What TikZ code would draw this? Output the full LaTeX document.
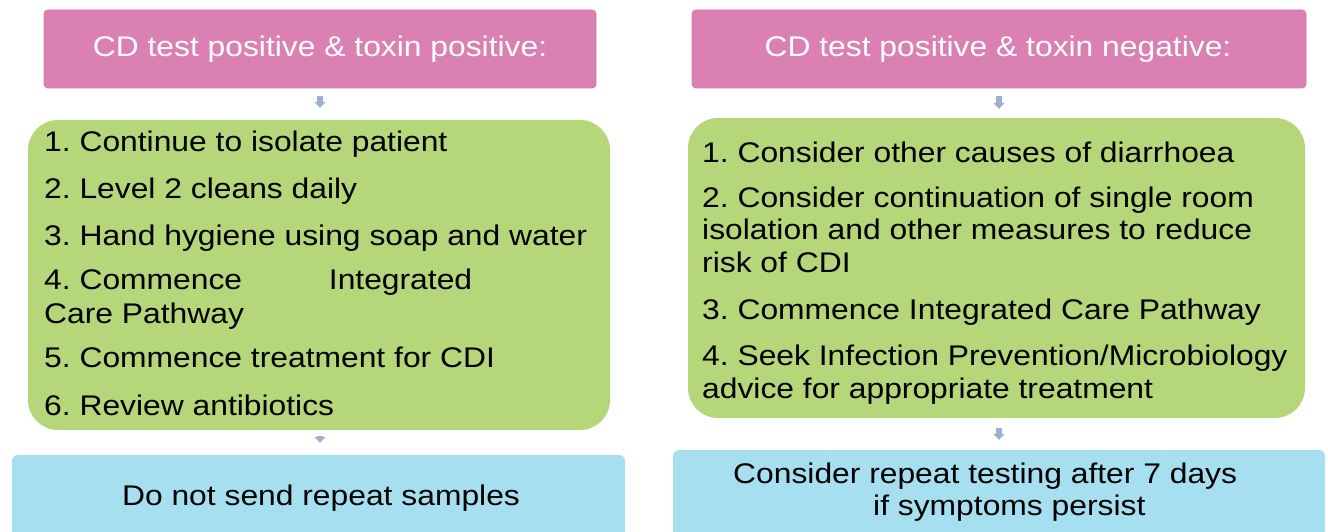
\documentclass[tikz,border=0pt]{standalone}
\usepackage{fontspec}
\setmainfont{Liberation Sans}[FakeStretch=1.12]
\usetikzlibrary{arrows.meta}
\frenchspacing
\definecolor{pinkfill}{HTML}{DB80B3}
\definecolor{pinkedge}{HTML}{D577AB}
\definecolor{greenfill}{HTML}{B6D67A}
\definecolor{bluefill}{HTML}{A6E0F0}
\definecolor{arrowcol}{HTML}{9DB0D0}
\tikzset{
  pinkbox/.style={draw=pinkedge, line width=0.8pt, fill=pinkfill, rounded corners=4pt, inner sep=0pt},
  greenbox/.style={fill=greenfill, rounded corners=30pt, inner sep=0pt},
  bluebox/.style={fill=bluefill, rounded corners=6pt, inner sep=0pt},
  txt/.style={inner sep=0pt, font=\fontsize{28.4}{34}\selectfont, text=black},
  ttl/.style={inner sep=0pt, font=\fontsize{28.4}{34}\selectfont, text=white},
  flowarrow/.style={draw=arrowcol, line width=6pt, -{Triangle[width=11pt,length=6pt]}},
}
\begin{document}
\begin{tikzpicture}[x=1pt,y=-1pt]
\clip (0,0) rectangle (1328,532);
\fill[white] (0,0) rectangle (1328,532);
% boxes
\node[pinkbox, minimum width=552pt, minimum height=78pt] (p1) at (320,49) {};
\node[pinkbox, minimum width=614pt, minimum height=78pt] (p2) at (999,49) {};
\node[greenbox, minimum width=582pt, minimum height=310pt] (g1) at (319,275) {};
\node[greenbox, minimum width=617pt, minimum height=300pt] (g2) at (996.5,268) {};
\node[bluebox, minimum width=613pt, minimum height=95pt] (b1) at (318.5,502.5) {};
\node[bluebox, minimum width=652pt, minimum height=100pt] (b2) at (999,500) {};
% titles
\node[ttl, anchor=base] (t1) at (320,57) {CD test positive \& toxin positive:};
\node[ttl, anchor=base] (t2) at (998,57) {CD test positive \& toxin negative:};
% left list
\node[txt, anchor=base west] (l1) at (44,152) {1. Continue to isolate patient};
\node[txt, anchor=base west] (l2) at (44,198) {2. Level 2 cleans daily};
\node[txt, anchor=base west] (l3) at (44,245) {3. Hand hygiene using soap and water};
\node[txt, anchor=base west] (l4a) at (44,289) {\makebox[428pt][s]{4. Commence\hfill Integrated}};
\node[txt, anchor=base west] (l4b) at (44,323) {Care Pathway};
\node[txt, anchor=base west] (l5) at (44,367) {5. Commence treatment for CDI};
\node[txt, anchor=base west] (l6) at (44,415) {6. Review antibiotics};
% right list
\node[txt, anchor=base west] (r1) at (702,162) {1. Consider other causes of diarrhoea};
\node[txt, anchor=base west] (r2a) at (702,207) {2. Consider continuation of single room};
\node[txt, anchor=base west] (r2b) at (702,239) {isolation and other measures to reduce};
\node[txt, anchor=base west] (r2c) at (702,272) {risk of CDI};
\node[txt, anchor=base west] (r3) at (702,319) {3. Commence Integrated Care Pathway};
\node[txt, anchor=base west] (r4a) at (702,365) {4. Seek Infection Prevention/Microbiology};
\node[txt, anchor=base west] (r4b) at (702,398) {advice for appropriate treatment};
% bottom texts
\node[txt, anchor=base] (bt1) at (321,505) {Do not send repeat samples};
\node[txt, anchor=base west] (bt2a) at (733,483) {Consider repeat testing after 7 days};
\node[txt, anchor=base west] (bt2b) at (873,515) {if symptoms persist};
% arrows
\draw[flowarrow, shorten <=8pt, shorten >=12pt] (p1.south) -- (p1.south |- g1.north);
\draw[flowarrow, shorten <=6pt, shorten >=12pt] (p1.south |- g1.south) -- (p1.south |- b1.north);
\draw[flowarrow, shorten <=8pt, shorten >=9pt] (p2.south) -- (p2.south |- g2.north);
\draw[flowarrow, shorten <=10pt, shorten >=10pt] (p2.south |- g2.south) -- (p2.south |- b2.north);
\end{tikzpicture}
\end{document}
